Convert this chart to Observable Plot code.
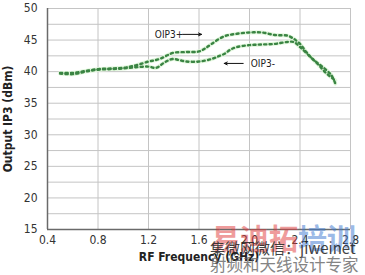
<!DOCTYPE html>
<html>
<head>
<meta charset="utf-8">
<script src="https://cdn.jsdelivr.net/npm/d3@7"></script>
<script src="https://cdn.jsdelivr.net/npm/@observablehq/plot@0.6"></script>
<style>
  html, body { margin: 0; padding: 0; background: #fff; }
  #wrap { position: relative; width: 365px; height: 275px; overflow: hidden; }
  .wm { position: absolute; white-space: nowrap; pointer-events: none; line-height: 1; }
</style>
</head>
<body>
<div id="wrap">
  <div id="chart"></div>
  <div class="wm" style="left:211px;top:223px;font:bold 29px 'Noto Sans CJK SC';line-height:1;opacity:0.5;"><span style="color:#e03c3c">易迪拓</span><span style="color:#3c78d0">培训</span></div>
  <div class="wm" style="left:210px;top:240px;font:15px 'Noto Sans CJK SC';line-height:1;color:#222;opacity:0.85;">集微网微信：jiweinet</div>
  <div class="wm" style="left:210px;top:256px;font:16.5px 'Noto Sans CJK SC';line-height:1;color:#666;opacity:0.8;">射频和天线设计专家</div>
</div>
<script>
const freqPlus = [0.5, 0.6, 0.7, 0.8, 0.9, 1.0, 1.1, 1.2, 1.25, 1.3, 1.35, 1.4, 1.5, 1.6, 1.65, 1.7, 1.8, 1.9, 2.0, 2.1, 2.2, 2.3, 2.35, 2.4, 2.45, 2.5, 2.55, 2.6, 2.68];
const oip3Plus = [39.8, 39.8, 40.1, 40.4, 40.5, 40.6, 41.0, 41.6, 41.8, 42.1, 42.6, 43.0, 43.1, 43.2, 43.7, 44.4, 45.6, 46.0, 46.2, 46.2, 45.8, 45.7, 45.2, 44.4, 43.1, 42.0, 41.0, 39.9, 38.6];
const freqMinus = [0.5, 0.6, 0.7, 0.8, 0.9, 1.0, 1.1, 1.2, 1.26, 1.33, 1.39, 1.45, 1.5, 1.6, 1.7, 1.75, 1.8, 1.85, 1.9, 2.0, 2.1, 2.2, 2.3, 2.35, 2.4, 2.5, 2.6, 2.65, 2.68];
const oip3Minus = [39.7, 39.6, 40.0, 40.3, 40.4, 40.5, 40.7, 40.8, 40.6, 41.5, 42.0, 41.8, 41.6, 41.6, 42.0, 42.4, 42.8, 43.5, 43.9, 44.2, 44.3, 44.4, 44.7, 44.7, 43.9, 42.0, 40.4, 39.4, 38.1];
const xTicks = [0.4, 0.8, 1.2, 1.6, 2.0, 2.4, 2.8];
const yTicks = [15, 20, 25, 30, 35, 40, 45, 50];
const yGrid = [15, 17.5, 20, 22.5, 25, 27.5, 30, 32.5, 35, 37.5, 40, 42.5, 45, 47.5, 50];
const labels = [
  {x: 1.25, y: 45.9, text: "OIP3+"},
  {x: 2.01, y: 41.3, text: "OIP3-"}
];
const arrows = [
  {x1: 1.47, y1: 45.9, x2: 1.62, y2: 45.9},
  {x1: 1.95, y1: 41.3, x2: 1.80, y2: 41.3}
];

const plus = freqPlus.map((f, i) => ({f, v: oip3Plus[i]}));
const minus = freqMinus.map((f, i) => ({f, v: oip3Minus[i]}));

const font = "'Liberation Sans Narrow', 'DejaVu Sans Condensed', sans-serif";

const chart = Plot.plot({
  width: 365,
  height: 275,
  marginLeft: 47,
  marginRight: 15,
  marginTop: 8,
  marginBottom: 46,
  style: {fontFamily: font, fontSize: "12px", color: "#333", background: "#fff"},
  x: {domain: [0.4, 2.8], label: null},
  y: {domain: [15, 50], label: null},
  marks: [
    Plot.ruleY(yGrid, {stroke: "#c4c4c4", strokeWidth: 1}),
    Plot.ruleX(xTicks, {stroke: "#c4c4c4", strokeWidth: 1}),
    Plot.ruleX([0.4], {stroke: "#6a6a6a", strokeWidth: 1.5}),
    Plot.ruleY([15], {stroke: "#6a6a6a", strokeWidth: 1.5}),
    Plot.line(plus, {x: "f", y: "v", curve: "catmull-rom", stroke: "#e2f7dd", strokeWidth: 4}),
    Plot.line(minus, {x: "f", y: "v", curve: "catmull-rom", stroke: "#e2f7dd", strokeWidth: 4}),
    Plot.line(plus, {x: "f", y: "v", curve: "catmull-rom", stroke: "#3a8443", strokeWidth: 2.4, strokeDasharray: "2.2 3.2"}),
    Plot.line(minus, {x: "f", y: "v", curve: "catmull-rom", stroke: "#3a8443", strokeWidth: 2.4, strokeDasharray: "2.2 3.2"}),
    Plot.arrow(arrows, {x1: "x1", y1: "y1", x2: "x2", y2: "y2", stroke: "#111", strokeWidth: 1, headLength: 5, headAngle: 50}),
    Plot.text(labels, {x: "x", y: "y", text: "text", textAnchor: "start", fontSize: 10, fill: "#222"}),
    Plot.axisX({ticks: xTicks, tickFormat: d => d.toFixed(1), tickSize: 0, tickPadding: 6, fontSize: 12, label: null}),
    Plot.axisY({ticks: yTicks, tickSize: 0, tickPadding: 10, fontSize: 12, label: null}),
    Plot.text(["RF Frequency (GHz)"], {frameAnchor: "bottom", dy: 31, fontWeight: "bold", fontSize: 12, fill: "#222"}),
    Plot.text(["Output IP3 (dBm)"], {frameAnchor: "left", textAnchor: "middle", dx: -39, rotate: -90, fontWeight: "bold", fontSize: 12, fill: "#222"})
  ]
});
document.getElementById("chart").appendChild(chart);
</script>
</body>
</html>
